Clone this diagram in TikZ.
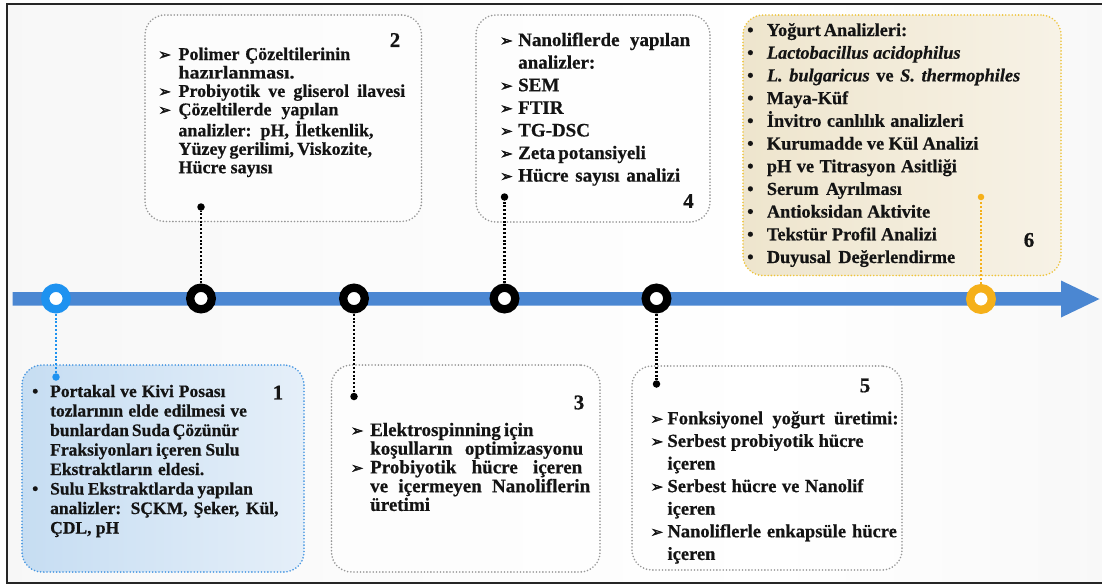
\documentclass[tikz,border=0pt]{standalone}
\usepackage{fontspec}
\setmainfont{Liberation Serif}[BoldFeatures={FakeBold=0.6},BoldItalicFeatures={FakeBold=0.6}]
\newfontfamily\symfont{DejaVu Sans}[FakeBold=2.5]
\definecolor{barblue}{RGB}{75,135,210}
\definecolor{ringblue}{RGB}{30,146,240}
\definecolor{ringorange}{RGB}{245,176,26}
\definecolor{boxgray}{RGB}{150,150,150}
\definecolor{boxblue}{RGB}{70,150,225}
\definecolor{boxyellow}{RGB}{238,196,60}
\definecolor{fillblueA}{RGB}{198,221,242}
\definecolor{fillblueB}{RGB}{229,239,249}
\definecolor{beigeA}{RGB}{238,229,205}
\definecolor{beigeB}{RGB}{247,242,230}
\definecolor{txt}{RGB}{20,20,20}
\pgfdeclarehorizontalshading{bgshade}{100bp}{color(0bp)=(black!10); color(25bp)=(black!3); color(60bp)=(white); color(88bp)=(black!5); color(100bp)=(black!28)}
\newcommand\arr{\raisebox{0.3pt}{\symfont\fontsize{15}{15}\selectfont ➢}}
\newcommand\mk[2]{\makebox[#1][l]{#2}}
\newcommand\spr[2]{\makebox[#1pt][s]{#2}}
\begin{document}
\begin{tikzpicture}[x=1pt,y=-1pt,
  boxbase/.style={rounded corners=20pt, line width=1.8pt, line cap=round, dash pattern=on 0pt off 3.2pt, inner sep=0},
  graybox/.style={boxbase, draw=boxgray, fill=white, fill opacity=0.55, draw opacity=1},
  bluebox/.style={boxbase, draw=boxblue, left color=fillblueA, right color=fillblueB},
  yellowbox/.style={boxbase, draw=boxyellow, left color=beigeA, right color=beigeB},
  ring/.style={circle, fill=white, line width=8.3pt, minimum size=21.6pt, inner sep=0},
  dot/.style={circle, minimum size=7.5pt, inner sep=0},
  conn/.style={line width=2.4pt, dash pattern=on 2pt off 1.8pt},
  txtnode/.style={anchor=base west, inner sep=0, text=txt},
  numnode/.style={inner sep=0, text=txt, font=\bfseries\fontsize{21}{21}\selectfont}]
\useasboundingbox (0,0) rectangle (1102,587);
\shade[shading=bgshade] (6,4) rectangle (1102,583);
\draw[line width=2pt, black!85] (1106,4) -- (6.5,4) -- (6.5,583) -- (1106,583);

% boxes
\node[bluebox, minimum width=282pt, minimum height=207pt] (b1) at (163,468.5) {};
\node[graybox, minimum width=276.5pt, minimum height=206.5pt] (b2) at (283.25,118.25) {};
\node[graybox, minimum width=268.5pt, minimum height=207pt] (b3) at (465.75,468.5) {};
\node[graybox, minimum width=234pt, minimum height=207pt] (b4) at (593,118.5) {};
\node[graybox, minimum width=270pt, minimum height=204pt] (b5) at (767,468) {};
\node[yellowbox, minimum width=318pt, minimum height=260.5pt] (b6) at (902,145.25) {};

% timeline bar
\fill[barblue] (12.5,292) -- (1061,292) -- (1061,280.5) -- (1099.5,299) -- (1061,317.5) -- (1061,305.5) -- (12.5,305.5) -- cycle;

% circle centres and dots
\coordinate (p1) at (56,298.5);
\coordinate (p2) at (201,298.5);
\coordinate (p3) at (354,298.5);
\coordinate (p4) at (504.5,298.5);
\coordinate (p5) at (656.5,298.5);
\coordinate (p6) at (981,299);
\node[dot, fill=ringblue] (d1) at (56,377) {};
\node[dot, fill=black] (d2) at (201,207) {};
\node[dot, fill=black] (d3) at (354,396.5) {};
\node[dot, fill=black] (d4) at (504.5,197) {};
\node[dot, fill=black] (d5) at (656.5,384) {};
\node[dot, fill=ringorange, minimum size=6.5pt] (d6) at (981,197) {};
\draw[conn, draw=ringblue] (p1) -- (d1);
\draw[conn] (p2) -- (d2);
\draw[conn] (p3) -- (d3);
\draw[conn] (p4) -- (d4);
\draw[conn] (p5) -- (d5);
\draw[conn, draw=ringorange, line width=2pt] (p6) -- (d6);
\node[ring, draw=ringblue] (c1) at (p1) {};
\node[ring, draw=black] (c2) at (p2) {};
\node[ring, draw=black] (c3) at (p3) {};
\node[ring, draw=black] (c4) at (p4) {};
\node[ring, draw=black] (c5) at (p5) {};
\node[ring, draw=ringorange] (c6) at (p6) {};

% numbers
\node[numnode] (n1) at (278,392.5) {1};
\node[numnode] (n2) at (395,40) {2};
\node[numnode] (n3) at (579,402.5) {3};
\node[numnode] (n4) at (688.5,201) {4};
\node[numnode] (n5) at (865,385.5) {5};
\node[numnode] (n6) at (1029,240) {6};

% texts
\node[txtnode, font=\bfseries\fontsize{17.5}{19.5}\selectfont] (t1) at (32,397) {%
\begin{tabular}[t]{@{}l@{}}
\mk{18pt}{•}\spr{175.3}{Portakal ve Kivi Posası}\\
\mk{18pt}{}\spr{196.7}{tozlarının elde edilmesi ve}\\
\mk{18pt}{}\spr{186}{bunlardan Suda Çözünür}\\
\mk{18pt}{}\spr{189.3}{Fraksiyonları içeren Sulu}\\
\mk{18pt}{}\spr{154}{Ekstraktların eldesi.}\\
\mk{18pt}{•}\spr{202.7}{Sulu Ekstraktlarda yapılan}\\
\mk{18pt}{}\spr{228.3}{analizler: SÇKM, Şeker, Kül,}\\
\mk{18pt}{}ÇDL, pH
\end{tabular}};

\node[txtnode, font=\bfseries\fontsize{18}{18.45}\selectfont] (t2) at (158.3,60) {%
\begin{tabular}[t]{@{}l@{}}
\mk{20pt}{\arr}\spr{171.7}{Polimer Çözeltilerinin}\\
\mk{20pt}{}\resizebox{116pt}{\height}{hazırlanması.}\\
\mk{20pt}{\arr}\spr{226.7}{Probiyotik ve gliserol ilavesi}\\
\mk{20pt}{\arr}\spr{160}{Çözeltilerde yapılan}\\
\mk{20pt}{}\spr{195}{analizler: pH, İletkenlik,}\\
\mk{20pt}{}\spr{192}{Yüzey gerilimi, Viskozite,}\\
\mk{20pt}{}Hücre sayısı
\end{tabular}};

\node[txtnode, font=\bfseries\fontsize{19}{18.3}\selectfont] (t3) at (350.7,436) {%
\begin{tabular}[t]{@{}l@{}}
\mk{19.3pt}{\arr}\spr{162}{Elektrospinning için}\\
\mk{19.3pt}{}\spr{213}{koşulların optimizasyonu}\\
\mk{19.3pt}{\arr}\spr{212}{Probiyotik hücre içeren}\\
\mk{19.3pt}{}\spr{220}{ve içermeyen Nanoliflerin}\\
\mk{19.3pt}{}üretimi
\end{tabular}};

\node[txtnode, font=\bfseries\fontsize{19}{22.6}\selectfont] (t4) at (500,46) {%
\begin{tabular}[t]{@{}l@{}}
\mk{18pt}{\arr}\spr{172}{Nanoliflerde yapılan}\\
\mk{18pt}{}analizler:\\
\mk{18pt}{\arr}SEM\\
\mk{18pt}{\arr}FTIR\\
\mk{18pt}{\arr}TG-DSC\\
\mk{18pt}{\arr}\spr{125}{Zeta potansiyeli}\\
\mk{18pt}{\arr}\spr{162}{Hücre sayısı analizi}
\end{tabular}};

\node[txtnode, font=\bfseries\fontsize{18.5}{22.6}\selectfont] (t5) at (650.5,424.3) {%
\begin{tabular}[t]{@{}l@{}}
\mk{16.8pt}{\arr}\spr{231}{Fonksiyonel yoğurt üretimi:}\\
\mk{16.8pt}{\arr}\spr{196}{Serbest probiyotik hücre}\\
\mk{16.8pt}{}içeren\\
\mk{16.8pt}{\arr}\spr{196}{Serbest hücre ve Nanolif}\\
\mk{16.8pt}{}içeren\\
\mk{16.8pt}{\arr}\spr{229.4}{Nanoliflerle enkapsüle hücre}\\
\mk{16.8pt}{}içeren
\end{tabular}};

\node[txtnode, font=\bfseries\fontsize{18.3}{22.7}\selectfont] (t6) at (747,36) {%
\begin{tabular}[t]{@{}l@{}}
\mk{19.7pt}{•}\spr{140}{Yoğurt Analizleri:}\\
\mk{19.7pt}{•}\textit{Lactobacillus acidophilus}\\
\mk{19.7pt}{•}\spr{253.3}{\textit{L. bulgaricus} ve \textit{S. thermophiles}}\\
\mk{19.7pt}{•}Maya-Küf\\
\mk{19.7pt}{•}\spr{196.6}{İnvitro canlılık analizleri}\\
\mk{19.7pt}{•}\spr{211.6}{Kurumadde ve Kül Analizi}\\
\mk{19.7pt}{•}\spr{190}{pH ve Titrasyon Asitliği}\\
\mk{19.7pt}{•}\spr{135}{Serum Ayrılması}\\
\mk{19.7pt}{•}\spr{163.3}{Antioksidan Aktivite}\\
\mk{19.7pt}{•}\spr{170}{Tekstür Profil Analizi}\\
\mk{19.7pt}{•}\spr{188.3}{Duyusal Değerlendirme}
\end{tabular}};
\end{tikzpicture}
\end{document}
